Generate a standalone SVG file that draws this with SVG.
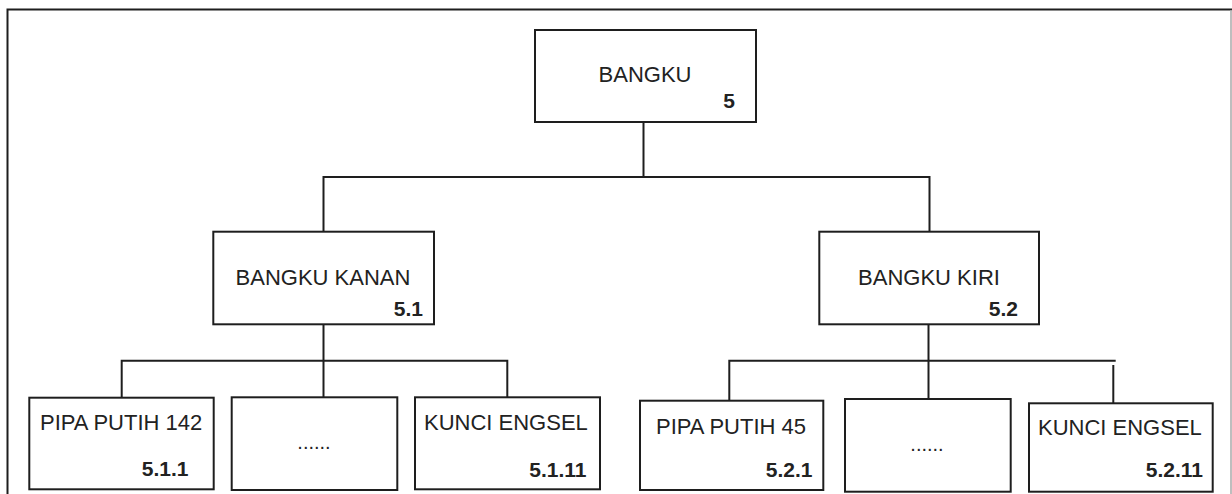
<svg xmlns="http://www.w3.org/2000/svg" width="1232" height="494" viewBox="0 0 1232 494">
  <style>
    .box { fill: #ffffff; stroke: #1e1e1e; stroke-width: 2; }
    .name { font-family: "Liberation Sans", Arial, sans-serif; font-size: 22px; fill: #222222; }
    .num { font-family: "Liberation Sans", Arial, sans-serif; font-size: 21px; font-weight: bold; fill: #222222; text-anchor: end; }
    .dots { font-family: "Liberation Sans", Arial, sans-serif; font-size: 20px; fill: #222222; text-anchor: middle; }
    .conn { fill: none; stroke: #1e1e1e; stroke-width: 2; }
  </style>
  <rect x="0" y="0" width="1232" height="494" fill="#ffffff"/>
  <g id="frame">
    <path d="M7.5,494 V9.5 H1232" fill="none" stroke="#1e1e1e" stroke-width="2"/>
    <path d="M1231,10 V494" fill="none" stroke="#a8a8a8" stroke-width="1.5"/>
  </g>
  <g id="connectors">
    <path class="conn" d="M643.5,122 V177"/>
    <path class="conn" d="M323.5,232 V177 H929.5 V232"/>
    <path class="conn" d="M323.5,324 V397.5"/>
    <path class="conn" d="M121.7,398 V360.7 H507.3 V397.5"/>
    <path class="conn" d="M928.5,324 V399"/>
    <path class="conn" d="M729.3,401 V360.7 H1115.7"/>
    <path class="conn" d="M1113.3,365 V403.5"/>
  </g>
  <g id="node-bangku">
    <rect class="box" x="535" y="30" width="221" height="92"/>
    <text class="name" x="645" y="82" text-anchor="middle">BANGKU</text>
    <text class="num" x="735" y="108">5</text>
  </g>
  <g id="node-bangku-kanan">
    <rect class="box" x="213.3" y="231.7" width="220.7" height="92.6"/>
    <text class="name" x="323" y="285" text-anchor="middle">BANGKU KANAN</text>
    <text class="num" x="423" y="316">5.1</text>
  </g>
  <g id="node-bangku-kiri">
    <rect class="box" x="819.3" y="231.7" width="219.7" height="92.6"/>
    <text class="name" x="929" y="285" text-anchor="middle">BANGKU KIRI</text>
    <text class="num" x="1018" y="316">5.2</text>
  </g>
  <g id="node-pipa-putih-142">
    <rect class="box" x="29.3" y="397.7" width="184.4" height="91.6"/>
    <text class="name" x="40" y="429.5">PIPA PUTIH 142</text>
    <text class="num" x="188.5" y="476">5.1.1</text>
  </g>
  <g id="node-dots-1">
    <rect class="box" x="231.7" y="397.3" width="165.6" height="92.7"/>
    <text class="dots" x="314" y="449">......</text>
  </g>
  <g id="node-kunci-engsel-1">
    <rect class="box" x="415" y="397.3" width="185" height="92"/>
    <text class="name" x="424" y="430">KUNCI ENGSEL</text>
    <text class="num" x="586.5" y="477.3">5.1.11</text>
  </g>
  <g id="node-pipa-putih-45">
    <rect class="box" x="640" y="400.7" width="183.3" height="89.3"/>
    <text class="name" x="656" y="434">PIPA PUTIH 45</text>
    <text class="num" x="812.5" y="476.7">5.2.1</text>
  </g>
  <g id="node-dots-2">
    <rect class="box" x="845" y="399" width="165.7" height="92.7"/>
    <text class="dots" x="927" y="451">......</text>
  </g>
  <g id="node-kunci-engsel-2">
    <rect class="box" x="1029" y="403.3" width="183.7" height="88.4"/>
    <text class="name" x="1038" y="435">KUNCI ENGSEL</text>
    <text class="num" x="1203" y="477.3">5.2.11</text>
  </g>
</svg>
